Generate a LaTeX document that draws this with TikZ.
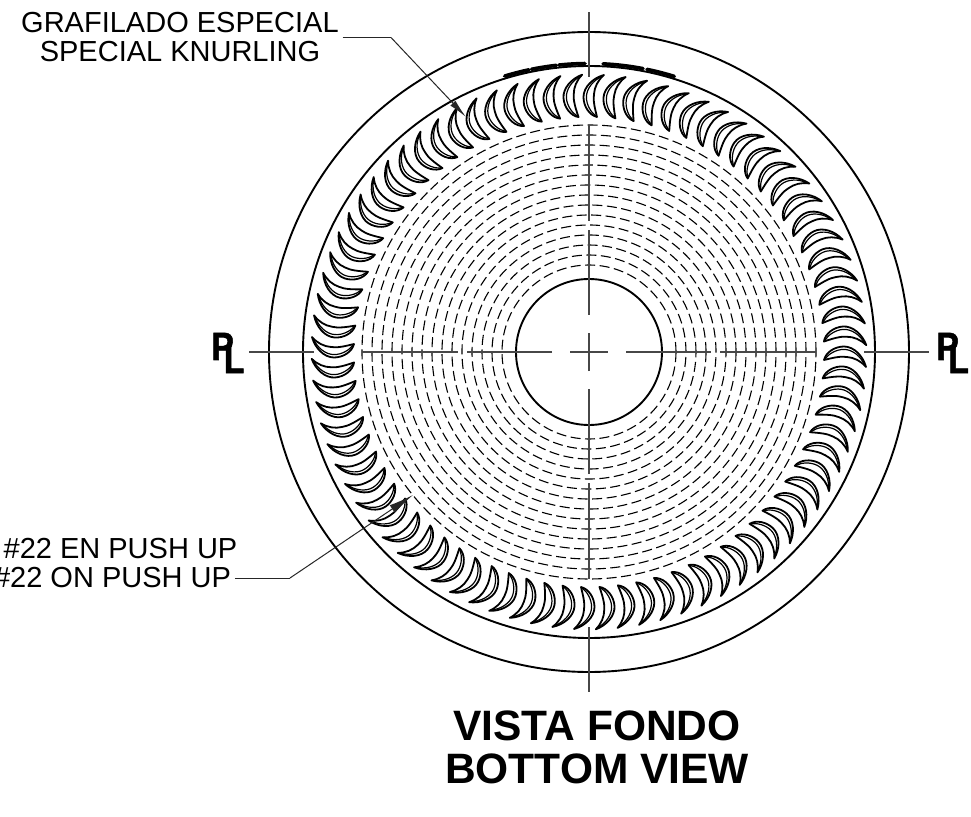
\documentclass[tikz,border=0pt]{standalone}
\usepackage{fontspec}
\setmainfont{Liberation Sans}
\newfontfamily\heavyfont[FakeBold=1.5]{Liberation Sans Bold}
\usetikzlibrary{arrows.meta}
\tikzset{
  outline/.style={line width=1.9pt,black},
  centreline/.style={line width=1.1pt,black!72},
  dashcircle/.style={line width=1.1pt,black,dash pattern=on 10pt off 4.5pt},
  crescent/.style={line width=1.8pt,black,line join=round},
  crescentin/.style={line width=1.2pt,black},
  leader/.style={line width=1pt,black!85},
  tag/.style={inner sep=0pt,outer sep=0pt,font=\fontsize{29}{29}\selectfont},
  headline/.style={inner sep=0pt,outer sep=0pt,font=\bfseries\fontsize{42.5}{42.5}\selectfont},
  symb/.style={inner sep=0pt,outer sep=0pt,font=\heavyfont\fontsize{39.5}{39.5}\selectfont,xscale=0.85},
  blob/.style={line width=3.6pt,black,line cap=round},
  tipa/.style={-{Latex[length=19pt,width=7pt]}},
  tipb/.style={-{Latex[length=25pt,width=9pt]}}
}
\begin{document}
\begin{tikzpicture}[x=1pt,y=1pt]
\useasboundingbox (-589,-464) rectangle (382,352);
\fill[white] (-589,-464) rectangle (382,352);
% circles
\coordinate (c) at (0,0);
\draw[outline] (c) circle (320);
\draw[outline] (c) circle (286);
\draw[outline] (c) circle (73);
\foreach \r in {87,97,...,227} \draw[dashcircle] (c) circle (\r);
% centre lines
\foreach \rot in {0,90,180,270} {
  \begin{scope}[rotate=\rot]
    \draw[centreline] (0,275) -- (0,340);
    \draw[centreline] (0,131) -- (0,227);
    \draw[centreline] (0,37) -- (0,122);
  \end{scope}
}
\draw[centreline] (-19,0) -- (19,0);
\draw[centreline] (0,-19) -- (0,19);
% knurl
\foreach \k in {0,...,79} {
  \begin{scope}[rotate=\k*4.5]
    \draw[crescent,fill=white] (15,277) .. controls (4,274) and (-5.5,265) .. (-5.5,255)
      .. controls (-5.5,246) and (0,237) .. (8,235)
      .. controls (5.5,245) and (4,252) .. (5,258)
      .. controls (5.5,265) and (9,272) .. (15,277) -- cycle;
    \draw[crescentin] (14,276) .. controls (4,272) and (-2.6,263) .. (-2.6,255)
      .. controls (-2.6,247) and (2,239.5) .. (7,236);
  \end{scope}
}
% marks on the rim at the top
\foreach \s/\e in {107/102,101.5/96.5,96/90.8,87.2/79.2,78.4/72.8} {
  \draw[blob] (\s:288.5) arc[start angle=\s,end angle=\e,radius=288.5];
}
% labels
\node[tag,anchor=base] (g1) at (-409,319) {GRAFILADO ESPECIAL};
\node[tag,anchor=base] (g2) at (-409,290) {SPECIAL KNURLING};
\node[tag,anchor=base] (p1) at (-468.5,-206) {\#22 EN PUSH UP};
\node[tag,anchor=base east] (p2) at (-358,-235) {\#22 ON PUSH UP};
\coordinate (e1) at (-198,314.5);
\coordinate (t1) at (-123,235);
\coordinate (e2) at (-299,-226);
\coordinate (t2) at (-176,-143);
\draw[leader] (g1.east |- e1) ++(4,0) -- (e1);
\draw[leader,tipa] (e1) -- (t1);
\draw[leader] (p2.east |- e2) ++(4,0) -- (e2);
\draw[leader,tipb] (e2) -- (t2);
\node[headline,anchor=base] (v1) at (8,-388) {VISTA FONDO};
\node[headline,anchor=base] (v2) at (8,-431) {BOTTOM VIEW};
% PL symbols
\node[symb,anchor=base west] (lp) at (-377.5,-8) {P};
\node[symb,anchor=base west] (ll) at (-365,-21) {L};
\node[symb,anchor=base west] (rp) at (347.5,-8) {P};
\node[symb,anchor=base west] (rl) at (359.5,-21) {L};
\end{tikzpicture}
\end{document}
